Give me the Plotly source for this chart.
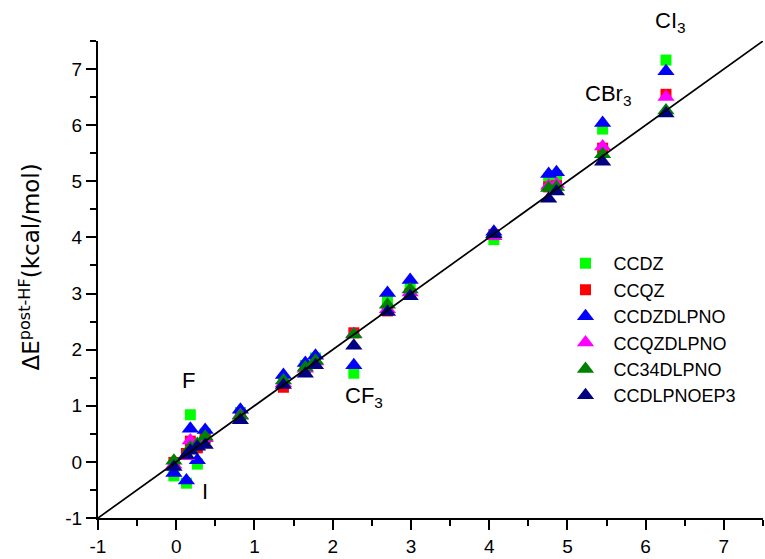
import plotly.graph_objects as go

# Reference x (one value per species)
x_ref = [-0.03, 0.13, 0.18, 0.27, 0.37, 0.82, 1.37, 1.65, 1.78, 2.27, 2.70, 2.99, 4.06, 4.76, 4.86, 5.45, 6.26]

ccdz       = [-0.25, -0.38, 0.84, -0.04, 0.50, 0.88, 1.45, 1.72, 1.85, 1.58, 2.89, 3.13, 3.96, 5.05, 5.10, 5.93, 7.16]
ccqz       = [-0.01, 0.15, 0.37, 0.25, 0.42, 0.82, 1.33, 1.62, 1.76, 2.30, 2.69, 3.00, 4.05, 4.90, 4.92, 5.59, 6.55]
ccdzdlpno  = [-0.20, -0.33, 0.59, 0.03, 0.57, 0.93, 1.55, 1.76, 1.89, 1.72, 3.01, 3.24, 4.10, 5.13, 5.16, 6.04, 6.96]
ccqzdlpno  = [-0.05, 0.10, 0.38, 0.28, 0.42, 0.83, 1.40, 1.66, 1.79, 2.28, 2.72, 3.02, 4.02, 4.92, 4.95, 5.62, 6.50]
cc34dlpno  = [0.02, 0.12, 0.25, 0.32, 0.45, 0.82, 1.45, 1.68, 1.80, 2.27, 2.80, 3.07, 4.05, 4.88, 4.90, 5.48, 6.26]
ccdlpnoep3 = [-0.09, 0.12, 0.20, 0.27, 0.30, 0.74, 1.37, 1.57, 1.72, 2.07, 2.67, 2.95, 4.06, 4.69, 4.82, 5.35, 6.21]

series_names = ["CCDZ", "CCQZ", "CCDZDLPNO", "CCQZDLPNO", "CC34DLPNO", "CCDLPNOEP3"]
series_vals = [ccdz, ccqz, ccdzdlpno, ccqzdlpno, cc34dlpno, ccdlpnoep3]
series_colors = ["#00FF00", "#FF0000", "#0000FF", "#FF00FF", "#008000", "#000080"]
series_symbols = ["square", "square", "triangle-up", "triangle-up", "triangle-up", "triangle-up"]
series_sizes = [11, 11, 15, 15, 15, 15]

diag_x = [-1, 7.5]
diag_y = [-1, 7.5]

tick_vals = [-1, 0, 1, 2, 3, 4, 5, 6, 7]
tick_text = ["-1", "0", "1", "2", "3", "4", "5", "6", "7"]
axis_range = [-1, 7.5]

labels = ["CI<sub>3</sub>", "CBr<sub>3</sub>", "CF<sub>3</sub>", "F", "I"]
label_x = [6.10, 5.20, 2.13, 0.05, 0.30]
label_y = [7.84, 6.54, 1.15, 1.45, -0.53]

FONT = "Liberation Sans, Arial, sans-serif"

fig = go.Figure()
for name, vals, col, sym, sz in zip(series_names, series_vals, series_colors, series_symbols, series_sizes):
    fig.add_trace(go.Scatter(
        x=x_ref, y=vals, mode="markers", name=name,
        marker=dict(color=col, symbol=sym, size=sz, line=dict(width=0)),
        cliponaxis=False,
    ))

fig.add_trace(go.Scatter(x=diag_x, y=diag_y, mode="lines", showlegend=False,
                         line=dict(color="black", width=1.7)))

span = axis_range[1] - axis_range[0]
for t, lx, ly in zip(labels, label_x, label_y):
    fig.add_annotation(x=lx, y=(ly - axis_range[0]) / span, xref="x", yref="paper", text=t,
                       showarrow=False, xanchor="left", yanchor="middle",
                       font=dict(family=FONT, size=22, color="black"))

fig.add_annotation(xref="paper", yref="paper", x=0, y=0.5, xshift=-69, yshift=12,
                   text="ΔE<sup>post-HF</sup>(kcal/mol)", textangle=-90, showarrow=False,
                   xanchor="center", yanchor="middle",
                   font=dict(family="DejaVu Sans, sans-serif", size=23, color="black"))

axis_common = dict(
    showline=True, linecolor="black", linewidth=2, mirror=False,
    ticks="outside", ticklen=10, tickwidth=2, tickcolor="black",
    showgrid=False, zeroline=False,
    tickmode="array", tickvals=tick_vals, ticktext=tick_text, range=axis_range,
    tickfont=dict(family=FONT, size=19, color="black"),
    minor=dict(dtick=0.5, tick0=-1, ticklen=6, tickwidth=2, tickcolor="black", ticks="outside", showgrid=False),
)

fig.update_xaxes(**axis_common)
fig.update_yaxes(**axis_common)

fig.update_layout(
    width=765, height=559,
    margin=dict(l=98, r=2, t=41, b=37, pad=0),
    plot_bgcolor="white", paper_bgcolor="white",
    font=dict(family=FONT, color="black"),
    legend=dict(x=0.691, y=0.572, xanchor="left", yanchor="top",
                font=dict(family=FONT, size=18, color="black"),
                bgcolor="rgba(0,0,0,0)", tracegroupgap=0, itemwidth=46),
)

fig.write_html("out.html")
